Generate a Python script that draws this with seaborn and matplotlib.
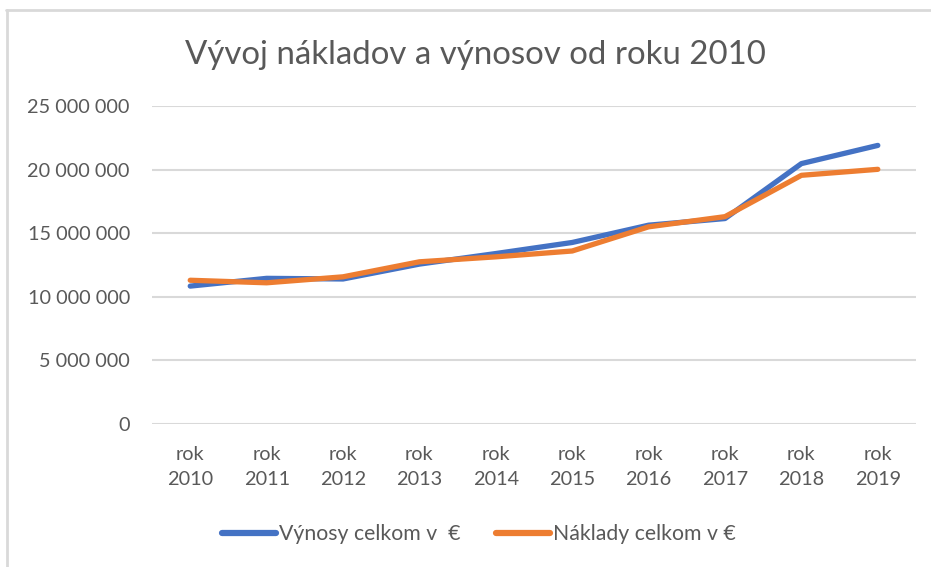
import pandas as pd
import matplotlib.pyplot as plt
import matplotlib.ticker as mticker
from matplotlib.lines import Line2D
import seaborn as sns

years = ["rok\n2010", "rok\n2011", "rok\n2012", "rok\n2013", "rok\n2014",
         "rok\n2015", "rok\n2016", "rok\n2017", "rok\n2018", "rok\n2019"]
vynosy = [10840000, 11450000, 11400000, 12570000, 13400000,
          14270000, 15630000, 16150000, 20470000, 21900000]
naklady = [11300000, 11100000, 11570000, 12750000, 13140000,
           13600000, 15500000, 16300000, 19550000, 20020000]
series_names = ["Výnosy celkom v  €", "Náklady celkom v €"]
colors = ["#4472C4", "#ED7D31"]
text_color = "#595959"
grid_color = "#D9D9D9"


def main():
    sns.set_style("white")
    plt.rcParams["font.family"] = ["Lato", "DejaVu Sans"]

    df = pd.DataFrame({"rok": years, series_names[0]: vynosy, series_names[1]: naklady})
    long_df = df.melt(id_vars="rok", var_name="rad", value_name="hodnota")
    long_df["x"] = long_df["rok"].map({y: i for i, y in enumerate(years)})

    fig = plt.figure(figsize=(9.31, 5.67), dpi=100)
    ax = fig.add_axes([0.1633, 0.2522, 0.8206, 0.5609])

    sns.lineplot(data=long_df, x="x", y="hodnota", hue="rad", palette=colors,
                 linewidth=3.8, ax=ax, legend=False, solid_capstyle="round")

    ax.set_xlim(-0.5, 9.5)
    ax.set_ylim(0, 25000000)
    ax.set_xticks(range(len(years)))
    ax.set_xticklabels(years, linespacing=1.55)
    ax.yaxis.set_major_locator(mticker.MultipleLocator(5000000))
    ax.yaxis.set_major_formatter(mticker.FuncFormatter(lambda v, p: f"{v:,.0f}".replace(",", " ")))
    ax.tick_params(axis="both", length=0, labelsize=14.3, labelcolor=text_color)
    ax.tick_params(axis="y", pad=16)
    ax.tick_params(axis="x", pad=16)
    ax.set_xlabel("")
    ax.set_ylabel("")
    ax.grid(axis="y", color=grid_color, linewidth=1.5)
    ax.set_axisbelow(True)
    for s in ax.spines.values():
        s.set_visible(False)

    fig.suptitle("Vývoj nákladov a výnosov od roku 2010", x=0.511, y=0.903, va="center",
                 fontsize=23.8, color=text_color)

    handles = [Line2D([0], [0], color=c, lw=4.5, solid_capstyle="round") for c in colors]
    fig.legend(handles, series_names, loc="center", bbox_to_anchor=(0.5145, 0.058),
               ncol=2, frameon=False, fontsize=15.3, labelcolor=text_color,
               handlelength=2.5, handletextpad=0.15, columnspacing=1.7)

    # chart border like in Excel
    fig.add_artist(Line2D([0.006, 1.0], [0.982, 0.982], color=grid_color, lw=2))
    fig.add_artist(Line2D([0.008, 0.008], [0.0, 0.982], color=grid_color, lw=2))

    fig.savefig("out.png", dpi=100)


if __name__ == '__main__':
    main()
